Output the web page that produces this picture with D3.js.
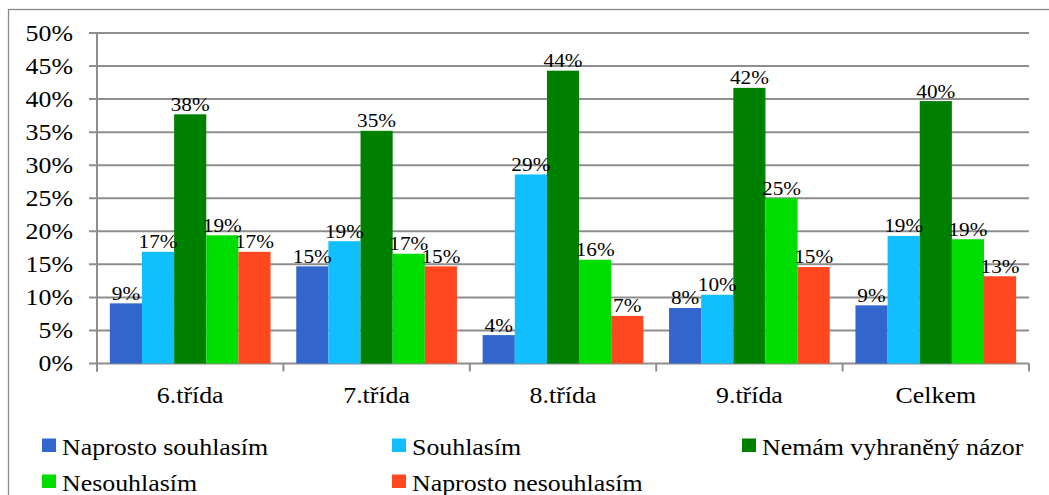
<!DOCTYPE html>
<html>
<head>
<meta charset="utf-8">
<script src="https://cdn.jsdelivr.net/npm/d3@7"></script>
<style>
  html, body { margin: 0; padding: 0; background: #fff; }
  svg { display: block; }
</style>
</head>
<body>
<svg id="chart" width="1049" height="495"></svg>
<script>
// Categories (school grades + overall)
const categories = ["6.třída", "7.třída", "8.třída", "9.třída", "Celkem"];

// Answer series, values in percent
const seriesNames = [
  "Naprosto souhlasím",
  "Souhlasím",
  "Nemám vyhraněný názor",
  "Nesouhlasím",
  "Naprosto nesouhlasím"
];
const naprostoSouhlasim   = [9.1, 14.7, 4.3, 8.4, 8.8];
const souhlasim           = [16.9, 18.5, 28.6, 10.4, 19.3];
const nemamNazor          = [37.7, 35.2, 44.3, 41.7, 39.7];
const nesouhlasim         = [19.4, 16.6, 15.7, 25.0, 18.8];
const naprostoNesouhlasim = [16.9, 14.7, 7.2, 14.6, 13.2];
const seriesValues = [naprostoSouhlasim, souhlasim, nemamNazor, nesouhlasim, naprostoNesouhlasim];

// Y axis ticks (percent)
const yTicks = [0, 5, 10, 15, 20, 25, 30, 35, 40, 45, 50];

const colors = ["#3366CC", "#11BFFF", "#008000", "#00DD00", "#FF4820"];

const FONT = "'Liberation Serif', 'Times New Roman', 'DejaVu Serif', serif";

const svg = d3.select("#chart");
const W = 1049, H = 495;
const plot = { left: 97, right: 1029, top: 33, bottom: 363.5 };
const sx = 1.15; // horizontal text stretch

// outer frame
svg.append("rect")
  .attr("x", 8.5).attr("y", 9.5)
  .attr("width", W + 10).attr("height", H + 10)
  .attr("fill", "none").attr("stroke", "#8a8a8a").attr("stroke-width", 1.3);

const x0 = d3.scaleBand().domain(categories).range([plot.left, plot.right]).paddingInner(0).paddingOuter(0);
const x1 = d3.scaleBand().domain(d3.range(seriesNames.length))
  .range([0, x0.bandwidth()]).paddingInner(0).paddingOuter(0.4);
const y = d3.scaleLinear().domain([0, 50]).range([plot.bottom, plot.top]);

// gridlines + y tick marks
svg.append("g").selectAll("line").data(yTicks).join("line")
  .attr("x1", plot.left - 8).attr("x2", plot.right)
  .attr("y1", d => y(d)).attr("y2", d => y(d))
  .attr("stroke", "#8e8e8e").attr("stroke-width", 2);

// y axis line
svg.append("line")
  .attr("x1", plot.left).attr("x2", plot.left)
  .attr("y1", plot.top).attr("y2", plot.bottom + 8)
  .attr("stroke", "#8e8e8e").attr("stroke-width", 2);

// category separators below the baseline
svg.append("g").selectAll("line")
  .data(d3.range(categories.length + 1))
  .join("line")
  .attr("x1", i => plot.left + i * x0.bandwidth())
  .attr("x2", i => plot.left + i * x0.bandwidth())
  .attr("y1", plot.bottom).attr("y2", plot.bottom + 8)
  .attr("stroke", "#8e8e8e").attr("stroke-width", 2);

// y tick labels
svg.append("g").selectAll("text").data(yTicks).join("text")
  .attr("transform", d => `translate(73,${y(d) + 7.8}) scale(${sx},1)`)
  .attr("text-anchor", "end")
  .attr("font-family", FONT)
  .attr("font-size", 22.5)
  .attr("fill", "#000")
  .text(d => d + "%");

// bars
const groups = svg.append("g").selectAll("g").data(categories).join("g")
  .attr("transform", c => `translate(${x0(c)},0)`);

groups.selectAll("rect")
  .data((c, ci) => seriesValues.map((vals, si) => ({ si, v: vals[ci] })))
  .join("rect")
  .attr("x", d => x1(d.si))
  .attr("width", x1.bandwidth())
  .attr("y", d => y(d.v))
  .attr("height", d => y(0) - y(d.v))
  .attr("fill", d => colors[d.si]);

// data labels
const fmtPct = d3.format(".0f");
groups.selectAll("text")
  .data((c, ci) => seriesValues.map((vals, si) => ({ si, v: vals[ci] })))
  .join("text")
  .attr("transform", d => `translate(${x1(d.si) + x1.bandwidth() / 2},${y(d.v) - 3.5}) scale(${sx},1)`)
  .attr("text-anchor", "middle")
  .attr("font-family", FONT)
  .attr("font-size", 18.5)
  .attr("fill", "#000")
  .text(d => fmtPct(d.v) + "%");

// category labels
svg.append("g").selectAll("text").data(categories).join("text")
  .attr("transform", c => `translate(${x0(c) + x0.bandwidth() / 2},403) scale(${sx},1)`)
  .attr("text-anchor", "middle")
  .attr("font-family", FONT)
  .attr("font-size", 22.5)
  .attr("fill", "#000")
  .text(c => c);

// legend
const legendPos = [
  { x: 42, y: 455 }, { x: 392, y: 455 }, { x: 742, y: 455 },
  { x: 42, y: 491 }, { x: 392, y: 491 }
];
const legend = svg.append("g").selectAll("g").data(seriesNames).join("g")
  .attr("transform", (d, i) => `translate(${legendPos[i].x},${legendPos[i].y})`);
legend.append("rect")
  .attr("x", 0).attr("y", -16.5).attr("width", 14).attr("height", 13.5)
  .attr("fill", (d, i) => colors[i]);
legend.append("text")
  .attr("transform", `translate(20,0) scale(${sx},1)`)
  .attr("font-family", FONT)
  .attr("font-size", 22.5)
  .attr("fill", "#000")
  .text(d => d);
</script>
</body>
</html>
